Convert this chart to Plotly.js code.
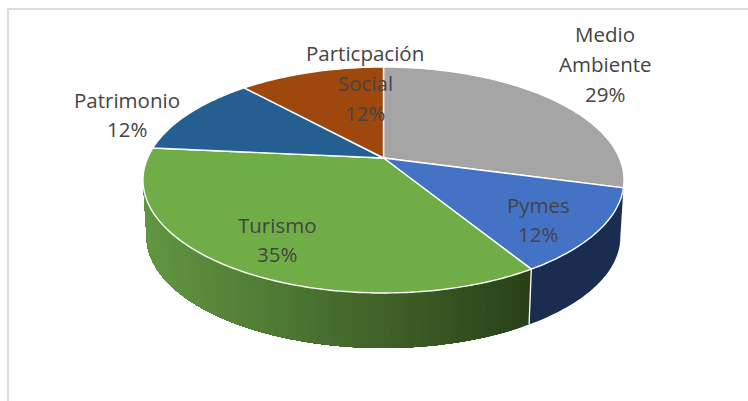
<!DOCTYPE html>
<html>
<head>
<meta charset="utf-8">
<script src="https://cdn.plot.ly/plotly-3.0.1.min.js"></script>
<style>html,body{margin:0;padding:0;background:#fff}#c{width:748px;height:401px}</style>
</head>
<body>
<div id="c"></div>
<script>
// Data
var categories = ["Medio Ambiente", "Pymes", "Turismo", "Patrimonio", "Particpación Social"];
var values = [29.2, 12.05, 35.25, 11.7, 11.8];
var shownPercent = ["29%", "12%", "35%", "12%", "12%"];
var topColors = ["#A5A5A5", "#4472C4", "#70AD47", "#255E91", "#9E480E"];
var sideColors = ["#6e6e6e", "#1A2C50", null, "#1a3f61", "#69300a"];
var greenLight = [97, 150, 65], greenDark = [42, 64, 24];

// Label lines
var labelLines = ["Medio", "Ambiente", "29%", "Pymes", "12%", "Turismo", "35%", "Patrimonio", "12%", "Particpación", "Social", "12%"];
var labelX = [605, 605, 605, 538, 538, 277, 277, 127, 127, 365, 365, 365];
var labelY = [34, 64, 94, 205, 234, 225, 254, 100, 129, 53, 83, 113];

// Projection of the tilted disc
var cx = 383.5, cyTop = 158, cyBottom = 215, a = 108.7, b = 235.9, k = 0.1947, depthScale = 0.985;
function project(deg, cy, s) {
  var t = deg * Math.PI / 180, u = Math.sin(t), v = -Math.cos(t), w = 1 - k * v;
  return [cx + s * b * u / w, cy + s * a * v / w];
}
var total = values.reduce(function (p, c) { return p + c; }, 0);
var edges = [0];
values.forEach(function (val, i) { edges.push(edges[i] + val / total * 360); });

var traces = [];
function poly(xs, ys, fill, lineColor, lineWidth) {
  traces.push({
    type: "scatter", mode: "lines", x: xs, y: ys, fill: fill ? "toself" : "none",
    fillcolor: fill || undefined, line: { color: lineColor, width: lineWidth, simplify: false },
    hoverinfo: "skip", showlegend: false
  });
}
function wall(d0, d1, col) {
  var xs = [], ys = [], d, p, n = Math.max(1, Math.ceil(d1 - d0)), i;
  for (i = 0; i <= n; i++) { d = d0 + (d1 - d0) * i / n; p = project(d, cyTop, 1); xs.push(p[0]); ys.push(p[1]); }
  for (i = n; i >= 0; i--) { d = d0 + (d1 - d0) * i / n; p = project(d, cyBottom, depthScale); xs.push(p[0]); ys.push(p[1]); }
  xs.push(xs[0]); ys.push(ys[0]);
  poly(xs, ys, col, col, 0);
}
// Visible side wall between the two silhouette tangents
var tanA = 180 - Math.acos(k) * 180 / Math.PI, tanB = 360 - tanA;
wall(tanA, Math.min(edges[1], tanB), sideColors[0]);
wall(edges[1], edges[2], sideColors[1]);
var xLeft = project(tanB, cyBottom, depthScale)[0], xRight = project(edges[2], cyTop, 1)[0];
var stepDeg = 1.5;
// Each band covers the rest of the wall and the next one paints over it, so no seams show
for (var d = edges[2]; d < tanB; d += stepDeg) {
  var mx = project(d + stepDeg / 2, cyTop, 1)[0];
  var f = Math.max(0, Math.min(1, (mx - xLeft) / (xRight - xLeft)));
  var rgb = greenLight.map(function (c, j) { return Math.round(c + (greenDark[j] - c) * f); });
  wall(d, tanB, "rgb(" + rgb.join(",") + ")");
}
// Separator on the side wall
var c0 = project(edges[2], cyTop, 1), c1 = project(edges[2], cyBottom, depthScale);
poly([c0[0], c1[0]], [c0[1], c1[1]], null, "#ffffff", 1.3);

// Top face
values.forEach(function (val, i) {
  var xs = [cx], ys = [cyTop], n = Math.ceil(edges[i + 1] - edges[i]);
  for (var q = 0; q <= n; q++) {
    var p = project(edges[i] + (edges[i + 1] - edges[i]) * q / n, cyTop, 1);
    xs.push(p[0]); ys.push(p[1]);
  }
  xs.push(cx); ys.push(cyTop);
  poly(xs, ys, topColors[i], "#ffffff", 1.4);
});

var annotations = labelLines.map(function (t, i) {
  return {
    x: labelX[i], y: labelY[i], xref: "x", yref: "y", text: t, showarrow: false,
    xanchor: "center", yanchor: "middle",
    font: { family: "'Open Sans', sans-serif", size: 20.5, color: "#444444" }
  };
});

var layout = {
  width: 748, height: 401, margin: { l: 0, r: 0, t: 0, b: 0 },
  paper_bgcolor: "#ffffff", plot_bgcolor: "#ffffff", showlegend: false,
  xaxis: { range: [0, 748], visible: false, fixedrange: true },
  yaxis: { range: [401, 0], visible: false, fixedrange: true },
  annotations: annotations,
  shapes: [
    { type: "line", xref: "x", yref: "y", x0: 8, x1: 748, y0: 9, y1: 9, line: { color: "#DCDCDC", width: 2 } },
    { type: "line", xref: "x", yref: "y", x0: 8, x1: 8, y0: 8, y1: 401, line: { color: "#DCDCDC", width: 2 } }
  ]
};
Plotly.newPlot("c", traces, layout, { displayModeBar: false, staticPlot: true });
</script>
</body>
</html>
